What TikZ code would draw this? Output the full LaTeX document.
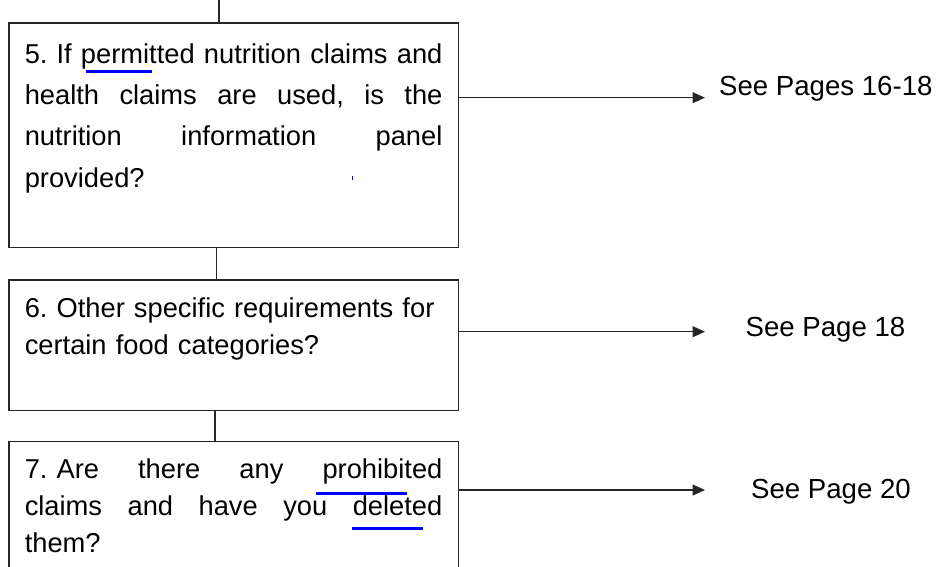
\documentclass[tikz,border=0pt]{standalone}
\usepackage{fontspec}
\setmainfont{Liberation Sans}
\usetikzlibrary{arrows.meta,positioning}

\begin{document}
\frenchspacing
\begin{tikzpicture}[x=1pt,y=-1pt,>={Triangle[length=12.5pt,width=11pt]},
    qbox/.style={draw=black!85, line width=1.3pt, anchor=north west, align=left,
                 text width=417.7pt, inner xsep=15.8pt, inner ysep=0pt},
    ref/.style={anchor=base west, inner sep=0pt, font=\fontsize{27.6}{33}\selectfont},
    ln/.style={black!85, line width=1.2pt},
    squig/.style={blue, line width=3pt}]
  \useasboundingbox (0,0) rectangle (938,567);
  \clip (0,0) rectangle (938,567);
  % ---- questions ----
  \node[qbox, font=\fontsize{27.3}{41.3}\selectfont, text height=40.4pt, text depth=184pt] (q5) at (8.3,22.3)
    {5. If \hfill permitted \hfill nutrition \hfill claims \hfill and\\
     health \hfill claims \hfill are \hfill used, \hfill is \hfill the\\
     nutrition \hfill information \hfill panel\\
     provided?};
  \node[qbox, font=\fontsize{27.3}{37.3}\selectfont, text height=37.4pt, text depth=93.3pt] (q6) at (8.3,279.3)
    {6. Other specific requirements for\\ certain food categories?};
  \node[qbox, font=\fontsize{27.3}{36.7}\selectfont, text height=37.3pt, text depth=160pt] (q7) at (8.3,441)
    {7. Are \hfill there \hfill any \hfill prohibited\\
     claims \hfill and \hfill have \hfill you \hfill deleted\\
     them?};
  % ---- page references ----
  \node[ref] (p5) at (719,96) {See Pages 16-18};
  \node[ref] (p6) at (745.5,336) {See Page 18};
  \node[ref] (p7) at (751,498) {See Page 20};
  \coordinate (tip5) at (705,97.7);
  \coordinate (tip6) at (705,331.7);
  \coordinate (tip7) at (705,490);
  \coordinate (in5) at (219,0);
  % ---- connectors ----
  \draw[ln] (in5) -- (in5 |- q5.north);
  \draw[ln] ([xshift=-17pt]q5.south) -- ([xshift=-17pt]q5.south |- q6.north);
  \draw[ln] ([xshift=-18.7pt]q6.south) -- ([xshift=-18.7pt]q6.south |- q7.north);
  \draw[ln,->] (q5.east |- tip5) -- (tip5);
  \draw[ln,->] (q6.east |- tip6) -- (tip6);
  \draw[ln,->] (q7.east |- tip7) -- (tip7);
  % spell-check marks
  \draw[squig] (86,72) -- (152,72);
  \draw[squig, line width=1pt] (352,176) -- (352,180);
  \draw[squig] (316,493) -- (407,493);
  \draw[squig] (352,528) -- (423,528);
\end{tikzpicture}
\end{document}
